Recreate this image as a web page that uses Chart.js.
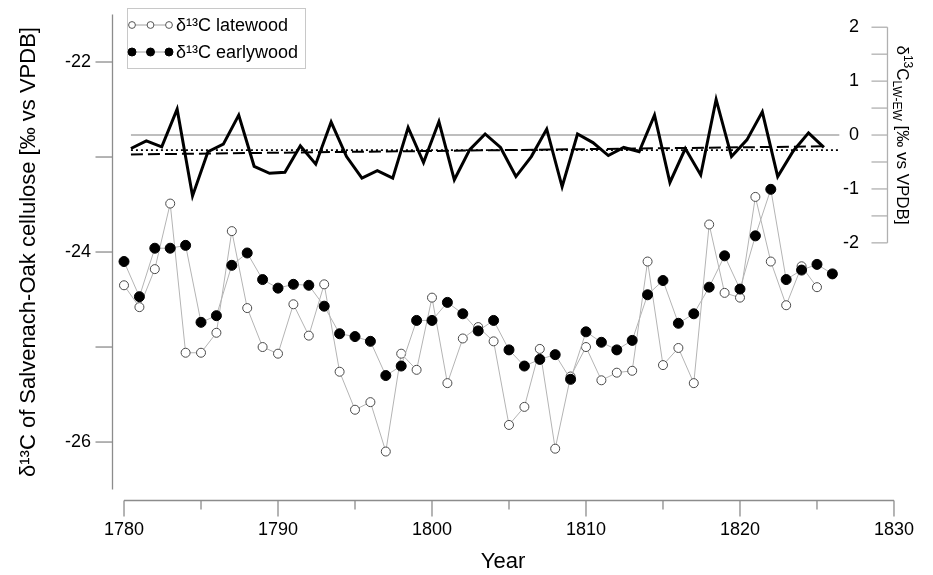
<!DOCTYPE html>
<html lang="en">
<head>
    <meta charset="UTF-8">
    <title>δ13C Salvenach oak cellulose</title>
    <script src="https://cdn.jsdelivr.net/npm/chart.js"></script>
    <style>
        html, body { margin: 0; padding: 0; background: #fff; }
        #wrap { width: 933px; height: 575px; }
    </style>
</head>
<body>
    <div id="wrap"><canvas id="isoChart" width="933" height="575"></canvas></div>
    <script>
        // --- data ---
        const years = [1780, 1781, 1782, 1783, 1784, 1785, 1786, 1787, 1788, 1789,
                       1790, 1791, 1792, 1793, 1794, 1795, 1796, 1797, 1798, 1799,
                       1800, 1801, 1802, 1803, 1804, 1805, 1806, 1807, 1808, 1809,
                       1810, 1811, 1812, 1813, 1814, 1815, 1816, 1817, 1818, 1819,
                       1820, 1821, 1822, 1823, 1824, 1825, 1826];

        const latewood = [-24.35, -24.58, -24.18, -23.49, -25.06, -25.06, -24.85, -23.78, -24.59, -25.00,
                          -25.07, -24.55, -24.88, -24.34, -25.26, -25.66, -25.58, -26.10, -25.07, -25.24,
                          -24.48, -25.38, -24.91, -24.79, -24.94, -25.82, -25.63, -25.02, -26.07, -25.31,
                          -25.00, -25.35, -25.27, -25.25, -24.10, -25.19, -25.01, -25.38, -23.71, -24.43,
                          -24.48, -23.42, -24.10, -24.56, -24.15, -24.37, null];

        const earlywood = [-24.10, -24.47, -23.96, -23.96, -23.93, -24.74, -24.67, -24.14, -24.01, -24.29,
                           -24.38, -24.34, -24.35, -24.57, -24.86, -24.89, -24.94, -25.30, -25.20, -24.72,
                           -24.72, -24.53, -24.65, -24.83, -24.72, -25.03, -25.20, -25.13, -25.08, -25.34,
                           -24.84, -24.95, -25.03, -24.93, -24.45, -24.30, -24.75, -24.65, -24.37, -24.04,
                           -24.39, -23.83, -23.34, -24.29, -24.19, -24.13, -24.23];

        // LW-EW difference (right axis), 1780-1825
        const diffYears = [1780, 1781, 1782, 1783, 1784, 1785, 1786, 1787, 1788, 1789,
                           1790, 1791, 1792, 1793, 1794, 1795, 1796, 1797, 1798, 1799,
                           1800, 1801, 1802, 1803, 1804, 1805, 1806, 1807, 1808, 1809,
                           1810, 1811, 1812, 1813, 1814, 1815, 1816, 1817, 1818, 1819,
                           1820, 1821, 1822, 1823, 1824, 1825];
        const diff = [-0.25, -0.11, -0.22, 0.48, -1.13, -0.31, -0.17, 0.37, -0.58, -0.71,
                      -0.69, -0.20, -0.54, 0.24, -0.40, -0.80, -0.66, -0.80, 0.14, -0.51,
                      0.25, -0.83, -0.27, 0.02, -0.23, -0.77, -0.40, 0.11, -0.96, 0.02,
                      -0.14, -0.38, -0.23, -0.31, 0.37, -0.88, -0.25, -0.74, 0.66, -0.40,
                      -0.09, 0.43, -0.77, -0.30, 0.04, -0.23];

        const trendYears = [1780, 1825];
        const trendValues = [-0.36, -0.21];
        const meanYears = [1780, 1826];
        const meanValues = [-0.28, -0.28];
        const zeroYears = [1780, 1826];
        const zeroValues = [0, 0];

        const xTicks = [1780, 1785, 1790, 1795, 1800, 1805, 1810, 1815, 1820, 1825, 1830];
        const yTicks = [-26, -25, -24, -23, -22];
        const yRTicks = [-2, -1.5, -1, -0.5, 0, 0.5, 1, 1.5, 2];

        // axis ranges
        const X_MIN = 1779.22, X_MAX = 1830;
        const DIFF_SHIFT = 0.45;           // difference curve sits slightly right of the year marks
        const Y_MIN = -26.61, Y_MAX = -21.5;
        const Y_AXIS_BOTTOM = -26.5;
        const YR_MIN = -6.77, YR_MAX = 2.236;

        const AXIS_GREY = '#8c8c8c';
        const FONT = '"Liberation Sans", Arial, sans-serif';
        Chart.defaults.font.family = FONT;
        Chart.defaults.color = '#000';

        const toPoints = (xs, ys) => xs.map((x, i) => ({ x: x, y: ys[i] }));
        const fixedTicks = list => scale => { scale.ticks = list.map(v => ({ value: v })); };

        function seg(ctx, x1, y1, x2, y2) {
            ctx.beginPath();
            ctx.moveTo(x1, y1);
            ctx.lineTo(x2, y2);
            ctx.stroke();
        }

        // axis lines / ticks in the offset style of the figure, plus titles and legend
        const framePlugin = {
            id: 'frame',
            afterDraw(chart) {
                const { ctx, chartArea, scales } = chart;
                const x = scales.x, y = scales.y, yR = scales.yR;
                ctx.save();
                ctx.strokeStyle = AXIS_GREY;
                ctx.lineWidth = 1.3;

                // left axis
                const lx = chartArea.left + 0.5;
                const yTop = y.getPixelForValue(Y_MAX), yBot = y.getPixelForValue(Y_AXIS_BOTTOM);
                seg(ctx, lx, yTop, lx, yBot);
                yTicks.forEach(v => {
                    const py = y.getPixelForValue(v);
                    seg(ctx, lx - 17, py, lx, py);
                });

                // bottom axis
                const by = chartArea.bottom + 0.5;
                seg(ctx, x.getPixelForValue(xTicks[0]), by, x.getPixelForValue(xTicks[xTicks.length - 1]), by);
                xTicks.forEach(v => {
                    const px = x.getPixelForValue(v);
                    seg(ctx, px, by, px, by + (v % 10 === 0 ? 16 : 9));
                });

                // right axis (-2 .. 2)
                ctx.strokeStyle = '#b0b0b0';
                const rx = chartArea.right - 6.5;
                seg(ctx, rx, yR.getPixelForValue(2), rx, yR.getPixelForValue(-2));
                yRTicks.forEach(v => {
                    const py = yR.getPixelForValue(v);
                    seg(ctx, rx - 16, py, rx, py);
                });

                // left axis title, centred on the axis line
                ctx.fillStyle = '#000';
                ctx.save();
                ctx.translate(29, (yTop + yBot) / 2);
                ctx.rotate(-Math.PI / 2);
                ctx.font = '22px ' + FONT;
                ctx.textAlign = 'center';
                ctx.textBaseline = 'middle';
                ctx.fillText('δ¹³C of Salvenach-Oak cellulose [‰ vs VPDB]', 0, 0);
                ctx.restore();

                // right axis title with sub/superscript
                ctx.textBaseline = 'alphabetic';
                ctx.textAlign = 'left';
                const parts = [
                    { t: 'δ', size: 17, dy: 0 },
                    { t: '13', size: 12, dy: -7 },
                    { t: 'C', size: 17, dy: 0 },
                    { t: 'LW-EW', size: 12, dy: 4 },
                    { t: ' [‰ vs VPDB]', size: 17, dy: 0 }
                ];
                let total = 0;
                parts.forEach(p => { ctx.font = p.size + 'px ' + FONT; p.w = ctx.measureText(p.t).width; total += p.w; });
                ctx.translate(rx + 10, yR.getPixelForValue(0));
                ctx.rotate(Math.PI / 2);
                let cx = -total / 2;
                parts.forEach(p => {
                    ctx.font = p.size + 'px ' + FONT;
                    ctx.fillText(p.t, cx, p.dy);
                    cx += p.w;
                });
                ctx.restore();

                // legend box
                ctx.save();
                ctx.strokeStyle = '#c8c8c8';
                ctx.lineWidth = 1;
                ctx.strokeRect(127.5, 8.5, 178, 60);
                const rows = [
                    { label: 'δ¹³C latewood', y: 25, fill: '#fff', stroke: '#555', r: 3.4 },
                    { label: 'δ¹³C earlywood', y: 52, fill: '#000', stroke: '#000', r: 4 }
                ];
                rows.forEach(row => {
                    ctx.strokeStyle = '#a0a0a0';
                    ctx.lineWidth = 1;
                    seg(ctx, 132, row.y, 169, row.y);
                    [132, 150.5, 169].forEach(mx => {
                        ctx.beginPath();
                        ctx.arc(mx, row.y, row.r, 0, Math.PI * 2);
                        ctx.fillStyle = row.fill;
                        ctx.fill();
                        ctx.strokeStyle = row.stroke;
                        ctx.stroke();
                    });
                    ctx.fillStyle = '#000';
                    ctx.font = '18px ' + FONT;
                    ctx.textBaseline = 'middle';
                    ctx.fillText(row.label, 176, row.y + 1);
                });
                ctx.restore();
            }
        };

        // keep the tick-label overhang from pushing the plot area around
        const noEdgePadding = s => { s.paddingTop = 0; s.paddingBottom = 0; };

        new Chart(document.getElementById('isoChart'), {
            type: 'line',
            data: {
                datasets: [
                    {
                        label: 'δ13C earlywood',
                        data: toPoints(years, earlywood),
                        xAxisID: 'x', yAxisID: 'y',
                        borderColor: '#b4b4b4', borderWidth: 1,
                        pointRadius: 5, pointBackgroundColor: '#000',
                        pointBorderColor: '#000', pointBorderWidth: 1
                    },
                    {
                        label: 'δ13C latewood',
                        data: toPoints(years, latewood),
                        xAxisID: 'x', yAxisID: 'y',
                        borderColor: '#b4b4b4', borderWidth: 1,
                        pointRadius: 4.5, pointBackgroundColor: '#fff',
                        pointBorderColor: '#4a4a4a', pointBorderWidth: 1
                    },
                    {
                        label: 'δ13C LW-EW',
                        data: toPoints(diffYears, diff),
                        xAxisID: 'xd', yAxisID: 'yR',
                        borderColor: '#000', borderWidth: 3, pointRadius: 0
                    },
                    {
                        label: 'trend',
                        data: toPoints(trendYears, trendValues),
                        xAxisID: 'xd', yAxisID: 'yR',
                        borderColor: '#000', borderWidth: 2, borderDash: [12, 5], pointRadius: 0
                    },
                    {
                        label: 'mean',
                        data: toPoints(meanYears, meanValues),
                        xAxisID: 'xd', yAxisID: 'yR',
                        borderColor: '#000', borderWidth: 1.6, borderDash: [2, 3], pointRadius: 0
                    },
                    {
                        label: 'zero',
                        data: toPoints(zeroYears, zeroValues),
                        xAxisID: 'xd', yAxisID: 'yR',
                        borderColor: '#a8a8a8', borderWidth: 1.5, pointRadius: 0
                    }
                ]
            },
            options: {
                responsive: false,
                animation: false,
                devicePixelRatio: 1,
                layout: { padding: { top: 14.5, left: 0, right: 0, bottom: 0 } },
                plugins: { legend: { display: false }, tooltip: { enabled: false } },
                scales: {
                    x: {
                        type: 'linear', position: 'bottom', min: X_MIN, max: X_MAX,
                        afterBuildTicks: fixedTicks(xTicks),
                        ticks: {
                            autoSkip: false, maxRotation: 0, padding: 19,
                            font: { size: 18 }, color: '#000',
                            callback: v => (v % 10 === 0 ? String(v) : '')
                        },
                        grid: { display: false, drawTicks: false },
                        border: { display: false },
                        title: { display: true, text: 'Year', font: { size: 22 }, color: '#000', padding: { top: 0, bottom: 0 } },
                        afterFit: s => { s.height = 75; }
                    },
                    xd: {
                        type: 'linear', display: false,
                        min: X_MIN - DIFF_SHIFT, max: X_MAX - DIFF_SHIFT
                    },
                    y: {
                        type: 'linear', position: 'left', min: Y_MIN, max: Y_MAX,
                        afterBuildTicks: fixedTicks(yTicks),
                        ticks: {
                            padding: 21, font: { size: 18 }, color: '#000',
                            callback: v => (v % 2 === 0 ? String(v) : '')
                        },
                        grid: { display: false, drawTicks: false },
                        border: { display: false },
                        afterFit: s => { s.width = 112; noEdgePadding(s); }
                    },
                    yR: {
                        type: 'linear', position: 'right', min: YR_MIN, max: YR_MAX,
                        afterBuildTicks: fixedTicks(yRTicks),
                        ticks: {
                            mirror: true, padding: -35, font: { size: 18 }, color: '#000',
                            callback: v => (Number.isInteger(v) ? String(v) : '')
                        },
                        grid: { display: false, drawTicks: false },
                        border: { display: false },
                        afterFit: s => { s.width = 35; noEdgePadding(s); }
                    }
                }
            },
            plugins: [framePlugin]
        });
    </script>
</body>
</html>
